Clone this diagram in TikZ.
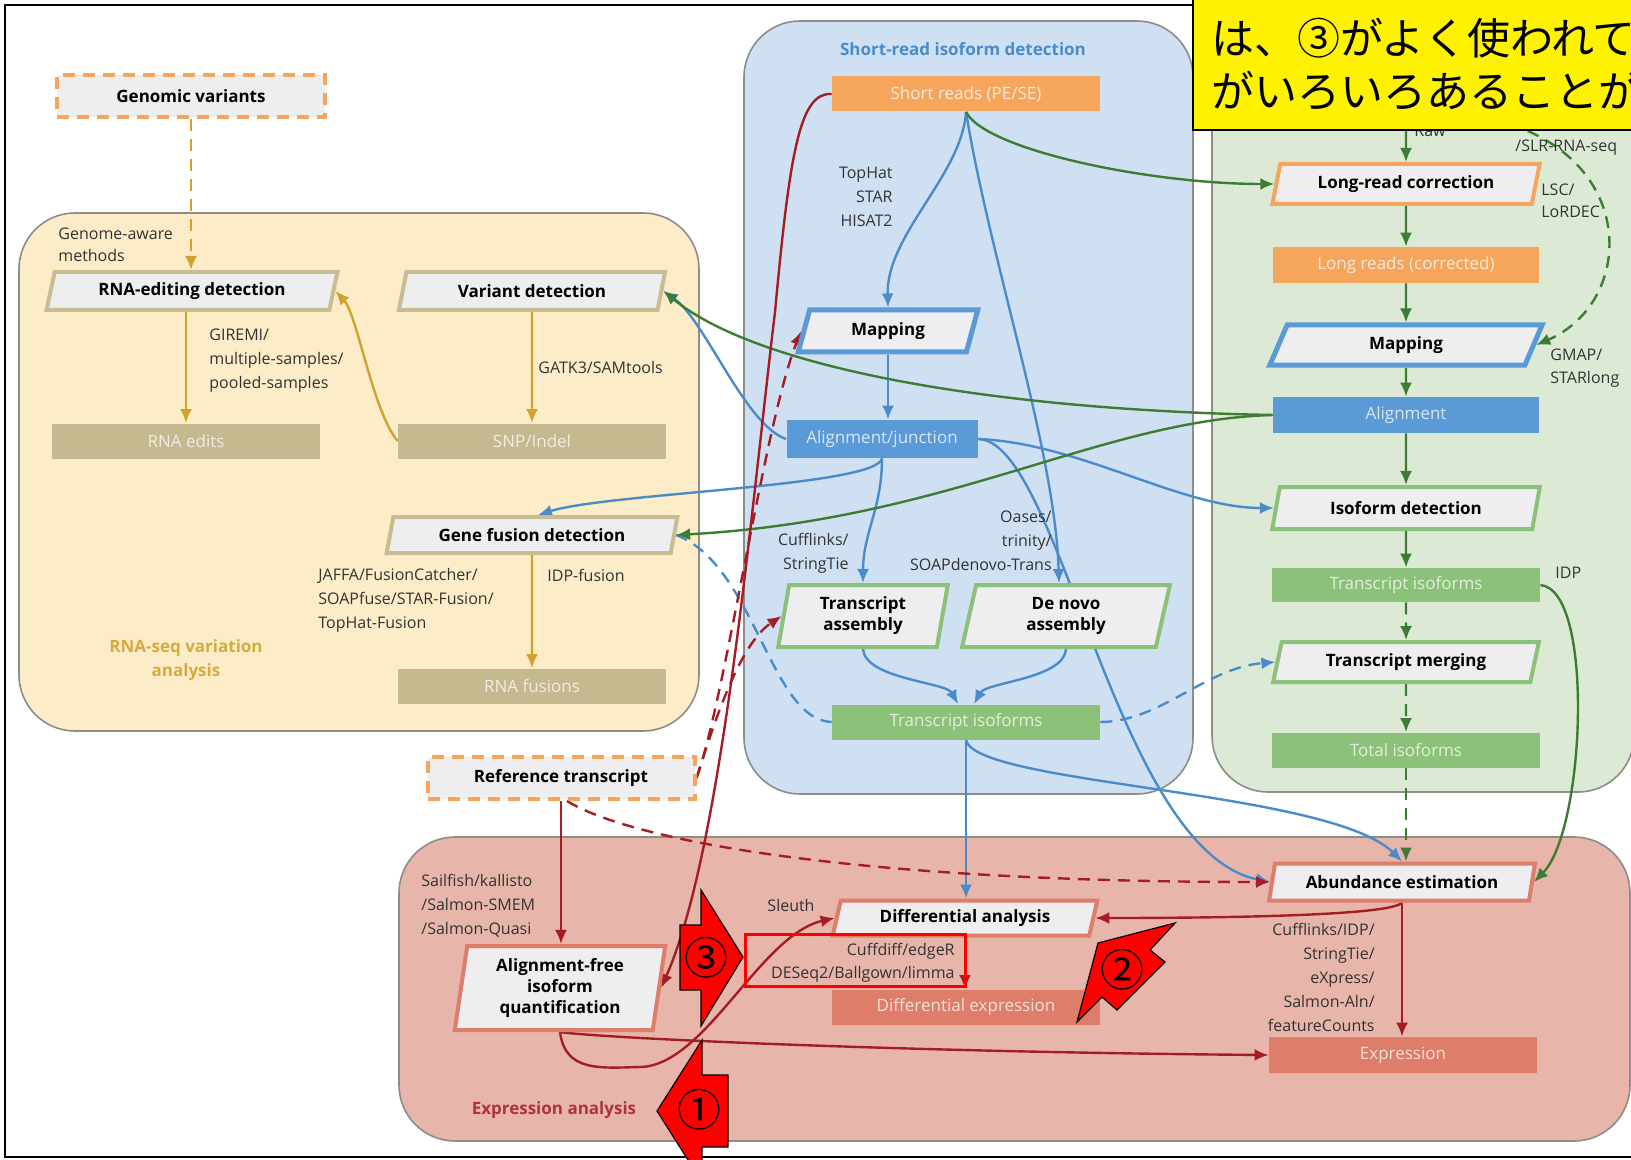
\documentclass[tikz,border=0pt]{standalone}
\usepackage{fontspec}
\setmainfont{Open Sans}
\newfontfamily\jpfont{Noto Sans CJK JP}
\usetikzlibrary{shapes.geometric,arrows.meta}

\definecolor{varbg}{HTML}{FCEDC8}
\definecolor{shortbg}{HTML}{CFE0F3}
\definecolor{longbg}{HTML}{DCEAD5}
\definecolor{exprbg}{HTML}{E8B5AB}
\definecolor{panelline}{HTML}{8C8C88}
\definecolor{boxgrey}{HTML}{EEEEF1}
\definecolor{tanline}{HTML}{C7BC92}
\definecolor{tanfill}{HTML}{C4B98F}
\definecolor{orng}{HTML}{F6A65C}
\definecolor{blu}{HTML}{5A9AD6}
\definecolor{grn}{HTML}{8CC17A}
\definecolor{salmon}{HTML}{DE7D69}
\definecolor{gold}{HTML}{D2A22E}
\definecolor{arrblue}{HTML}{4A8CCB}
\definecolor{arrgreen}{HTML}{3D7C33}
\definecolor{arrred}{HTML}{A51D24}
\definecolor{txtgrey}{HTML}{333333}

\pgfdeclarelayer{panel}
\pgfdeclarelayer{edges}
\pgfsetlayers{panel,edges,main}

\tikzset{
  procbox/.style={trapezium, trapezium left angle=75, trapezium right angle=105,
    trapezium stretches=true, fill=boxgrey, line width=2pt, align=center,
    inner sep=1pt, font=\bfseries\fontsize{8.5}{10.5}\selectfont},
  databox/.style={rectangle, minimum width=134pt, minimum height=17.5pt, inner sep=0pt,
    fill=#1, text=#1!25!white, font=\fontsize{8.5}{10}\selectfont},
  inputbox/.style={rectangle, draw=orng, dash pattern=on 6pt off 4pt, line width=2pt,
    fill=boxgrey, minimum width=134pt, minimum height=21pt,
    font=\bfseries\fontsize{8.5}{10}\selectfont},
  tool/.style={text=txtgrey, inner sep=0pt, font=\fontsize{8}{12}\selectfont},
  paneltitle/.style={align=center, inner sep=0pt, font=\bfseries\fontsize{8.5}{12}\selectfont},
  panelbox/.style={draw=panelline, line width=0.8pt, rounded corners=28pt},
  flow/.style={->, line width=1.2pt},
  dashflow/.style={dash pattern=on 6pt off 4pt},
  callout/.style={fill=red, draw=black, line width=0.6pt},
  digitmark/.style={inner sep=0pt, font=\jpfont\fontsize{22}{22}\selectfont},
  notetext/.style={anchor=west, inner sep=0pt, font=\jpfont\fontsize{21.5}{21.5}\selectfont}
}

\begin{document}
\begin{tikzpicture}[x=0.5pt, y=-0.5pt, >={Latex[length=7pt,width=6pt]}]
  \useasboundingbox (0,0) rectangle (1631,1160);

  % Hintergrund und Bereiche
  \begin{pgfonlayer}{panel}
    \fill[white] (0,0) rectangle (1631,1160);
    \draw[line width=1.2pt] (5,5) rectangle (1650,1157);
    \draw[panelbox, fill=varbg] (19,213) rectangle (699,731);
    \draw[panelbox, fill=shortbg] (744,21) rectangle (1193,794);
    \draw[panelbox, fill=longbg] (1212,21) rectangle (1634,792);
    \draw[panelbox, fill=exprbg] (399,837) rectangle (1630,1141);
  \end{pgfonlayer}

  % RNA-seq variation analysis
  \node[inputbox] (gv) at (191,96) {Genomic variants};
  \node[procbox, draw=tanline, minimum width=145.5pt, minimum height=19pt] (red) at (192,291) {RNA-editing detection};
  \node[procbox, draw=tanline, minimum width=134pt, minimum height=19pt] (vd) at (532,291) {Variant detection};
  \node[databox=tanfill] (edits) at (186,441) {RNA edits};
  \node[databox=tanfill] (snp) at (532,441) {SNP/Indel};
  \node[procbox, draw=tanline, minimum width=145.5pt, minimum height=18pt] (gfd) at (532,535) {Gene fusion detection};
  \node[databox=tanfill] (fus) at (532,686) {RNA fusions};
  \node[paneltitle, text=gold!90!white] (tvar) at (186,660) {RNA-seq variation\\analysis};

  \node[tool, anchor=west, align=left, font=\fontsize{8}{11}\selectfont] (lgam) at (58,245) {Genome-aware\\methods};
  \node[tool, anchor=west, align=left] (lgiremi) at (209,361) {GIREMI/\\multiple-samples/\\pooled-samples};
  \node[tool, anchor=west] (lgatk) at (538,367) {GATK3/SAMtools};
  \node[tool, anchor=west, align=left] (ljaffa) at (318,600) {JAFFA/FusionCatcher/\\SOAPfuse/STAR-Fusion/\\TopHat-Fusion};
  \node[tool, anchor=west] (lidpf) at (547,575) {IDP-fusion};

  % Short-read isoform detection
  \node[paneltitle, text=arrblue] (tshort) at (963,49) {Short-read isoform detection};
  \node[databox=orng] (sr) at (966,94) {Short reads (PE/SE)};
  \node[procbox, draw=blu, line width=2.5pt, minimum width=90pt, minimum height=21pt] (mapS) at (888,331) {Mapping};
  \node[databox=blu, minimum width=95.5pt, minimum height=19pt] (aj) at (882,439) {Alignment/junction};
  \node[procbox, draw=grn, trapezium left angle=81, trapezium right angle=99, minimum width=85pt, minimum height=31pt] (ta) at (863,616) {Transcript\\assembly};
  \node[procbox, draw=grn, trapezium left angle=81, trapezium right angle=99, minimum width=104pt, minimum height=31pt] (dn) at (1066,616) {De novo\\assembly};
  \node[databox=grn] (tiS) at (966,722) {Transcript isoforms};

  \node[tool, anchor=east, align=right] (ltophat) at (893,197) {TopHat\\STAR\\HISAT2};
  \node[tool, anchor=east, align=right] (lcuff) at (849,553) {Cufflinks/\\StringTie};
  \node[tool, anchor=east, align=right] (loases) at (1052,541) {Oases/\\trinity/\\SOAPdenovo-Trans};

  % Long-read isoform detection
  \node[procbox, draw=orng, minimum width=134pt, minimum height=20pt] (lrc) at (1406,184) {Long-read correction};
  \node[databox=orng, minimum width=133pt, minimum height=18pt] (lrcor) at (1406,265) {Long reads (corrected)};
  \node[procbox, draw=blu, line width=2.5pt, minimum width=136.5pt, minimum height=20pt] (mapL) at (1406,345) {Mapping};
  \node[databox=blu, minimum width=133pt, minimum height=18pt] (aln) at (1406,415) {Alignment};
  \node[procbox, draw=grn, minimum width=134pt, minimum height=21pt] (isd) at (1406,508) {Isoform detection};
  \node[databox=grn, minimum height=17pt] (tiL) at (1406,585) {Transcript isoforms};
  \node[procbox, draw=grn, minimum width=134pt, minimum height=20pt] (tm) at (1406,662) {Transcript merging};
  \node[databox=grn] (tot) at (1406,750) {Total isoforms};

  \node[tool, anchor=west] (lraw) at (1414,131) {Raw};
  \node[tool, anchor=west] (lslr) at (1515,148) {/SLR-RNA-seq};
  \node[tool, anchor=west, align=left, font=\fontsize{8}{11}\selectfont] (llsc) at (1541,201) {LSC/\\LoRDEC};
  \node[tool, anchor=west, align=left, font=\fontsize{8}{11.5}\selectfont] (lgmap) at (1550,368) {GMAP/\\STARlong};
  \node[tool, anchor=west] (lidp) at (1555,573) {IDP};

  % Expression analysis
  \node[inputbox, minimum width=133.5pt] (rt) at (561,778) {Reference transcript};
  \node[procbox, draw=salmon, minimum width=133pt, minimum height=18.5pt] (ae) at (1402,882) {Abundance estimation};
  \node[procbox, draw=salmon, minimum width=133pt, minimum height=17.5pt] (da) at (965,918) {Differential analysis};
  \node[procbox, draw=salmon, trapezium left angle=82, trapezium right angle=98, minimum width=106pt, minimum height=42pt] (afq) at (560,988) {Alignment-free\\isoform\\quantification};
  \node[databox=salmon] (de) at (966,1007) {Differential expression};
  \node[databox=salmon, minimum height=18pt] (ex) at (1403,1055) {Expression};
  \node[paneltitle, text=arrred!90!white] (texpr) at (554,1110) {Expression analysis};

  \node[tool, anchor=west, align=left] (lsail) at (421,906) {Sailfish/kallisto\\/Salmon-SMEM\\/Salmon-Quasi};
  \node[tool] (lsleuth) at (791,905) {Sleuth};
  \node[tool, anchor=east, align=right, font=\fontsize{8}{11.5}\selectfont] (lcuffdiff) at (955,963) {Cuffdiff/edgeR\\DESeq2/Ballgown/limma};
  \node[tool, anchor=east, align=right] (labund) at (1375,977) {Cufflinks/IDP/\\StringTie/\\eXpress/\\Salmon-Aln/\\featureCounts};

  \coordinate (rawout) at (1406,100);
  \coordinate (rawside) at (1470,115);

  % Pfeile
  \begin{pgfonlayer}{edges}
    \draw[flow, gold, dashflow] (gv.south) -- (gv.south |- red.north);
    \draw[flow, gold] (edits.north |- red.south) -- (edits.north);
    \draw[flow, gold] (vd.south) -- (snp.north);
    \draw[flow, gold] (snp.west) .. controls +(-25,-30) and +(22,24) .. (red.east);
    \draw[flow, gold] (gfd.south) -- (fus.north);

    \draw[flow, arrblue] (sr.south) .. controls (962,175) and (886,235) .. (mapS.north);
    \draw[flow, arrblue] (sr.south) .. controls (990,260) and (1055,450) .. ([xshift=-3.5pt]dn.north);
    \draw[flow, arrblue] (mapS.south) -- (mapS.south |- aj.north);
    \draw[flow, arrblue] (aj.west) .. controls (745,425) and (705,320) .. (vd.east);
    \draw[flow, arrblue] (aj.south) .. controls +(-5,28) and +(70,-22) .. ([xshift=3pt]gfd.north);
    \draw[flow, arrblue] (aj.south) .. controls +(0,50) and +(0,-50) .. (ta.north);
    \draw[flow, arrblue] (aj.east) .. controls (1080,443) and (1180,508) .. (isd.west);
    \draw[flow, arrblue] (aj.east) .. controls (1060,440) and (1115,850) .. (ae.west);
    \draw[flow, arrblue] (ta.south) .. controls +(2,30) and +(-12,-22) .. ([xshift=-4pt]tiS.north);
    \draw[flow, arrblue] (dn.south) .. controls +(-2,30) and +(12,-22) .. ([xshift=4pt]tiS.north);
    \draw[flow, arrblue, dashflow] (tiS.east) .. controls (1160,722) and (1205,668) .. (tm.west);
    \draw[arrblue, line width=1.2pt, dashflow] (gfd.east) .. controls (755,565) and (770,720) .. (tiS.west);
    \draw[flow, arrblue] (tiS.south) -- (tiS.south |- da.north);
    \draw[flow, arrblue] (tiS.south) .. controls (975,785) and (1330,790) .. (ae.north);

    \draw[flow, arrgreen] (sr.south) .. controls (985,150) and (1150,184) .. (lrc.west);
    \draw[flow, arrgreen] (aln.west) .. controls (1000,410) and (760,370) .. (vd.east);
    \draw[flow, arrgreen] (aln.west) .. controls (1100,420) and (950,520) .. (gfd.east);
    \draw[flow, arrgreen] (rawout) -- (lrc.north);
    \draw[flow, arrgreen] (lrc.south) -- (lrcor.north);
    \draw[flow, arrgreen] (lrcor.south) -- (mapL.north);
    \draw[flow, arrgreen] (mapL.south) -- (aln.north);
    \draw[flow, arrgreen] (aln.south) -- (isd.north);
    \draw[flow, arrgreen] (isd.south) -- (tiL.north);
    \draw[flow, arrgreen, dashflow] (tiL.south) -- (tm.north);
    \draw[flow, arrgreen, dashflow] (tm.south) -- (tot.north);
    \draw[flow, arrgreen, dashflow] (tot.south) -- (tot.south |- ae.north);
    \draw[flow, arrgreen] (tiL.east) .. controls (1595,590) and (1585,830) .. (ae.east);
    \draw[flow, arrgreen, dashflow] (rawside) .. controls (1640,140) and (1640,300) .. (mapL.east);

    \draw[flow, arrred] (rt.south) -- (rt.south |- afq.north);
    \draw[flow, arrred, dashflow] ([xshift=3pt]rt.south) .. controls (630,840) and (850,882) .. (ae.west);
    \draw[flow, arrred, dashflow] (rt.east) .. controls (725,700) and (765,420) .. (mapS.west);
    \draw[flow, arrred, dashflow] (rt.east) .. controls (712,730) and (738,645) .. (ta.west);
    \draw[flow, arrred] (sr.west) .. controls (800,92) and (790,150) .. (775,312)
      .. controls (750,520) and (722,850) .. (afq.east);
    \draw[flow, arrred] (afq.south) .. controls +(5,40) and (600,1068) .. (640,1067)
      .. controls (705,1066) and (760,935) .. (da.west);
    \draw[flow, arrred] (afq.south) .. controls (600,1038) and (900,1052) .. (ex.west);
    \draw[flow, arrred] (ae.south) .. controls +(-10,14) and (1200,918) .. (da.east);
    \draw[flow, arrred] (ae.south) -- (ae.south |- ex.north);
    \draw[flow, arrred] (da.south) -- (da.south |- de.north);
  \end{pgfonlayer}

  % Markierungen
  \node[draw=red, line width=1.5pt, minimum width=110pt, minimum height=26pt] (hl) at (855,960) {};
  \draw[callout] (743,957) -- (701,890) -- (701,925) -- (680,925) -- (680,990)
    -- (701,990) -- (701,1026) -- cycle;
  \draw[callout] (657,1111) -- (702,1040) -- (702,1075) -- (728,1075) -- (728,1147)
    -- (702,1147) -- (702,1182) -- cycle;
  \draw[callout] (1077,1022) -- (1102,997) -- (1117,1010) -- (1165,962) -- (1150,950)
    -- (1175,923) -- (1098,943) -- cycle;
  \node[digitmark] (mk3) at (706,958) {③};
  \node[digitmark] (mk1) at (699,1110) {①};
  \node[digitmark] (mk2) at (1122,970) {②};

  % Hinweis oben rechts
  \draw[fill=yellow, line width=1pt] (1193,-10) rectangle (1650,130);
  \node[notetext] (note1) at (1211,38) {は、③がよく使われて};
  \node[notetext] (note2) at (1211,91) {がいろいろあることが};
\end{tikzpicture}
\end{document}
